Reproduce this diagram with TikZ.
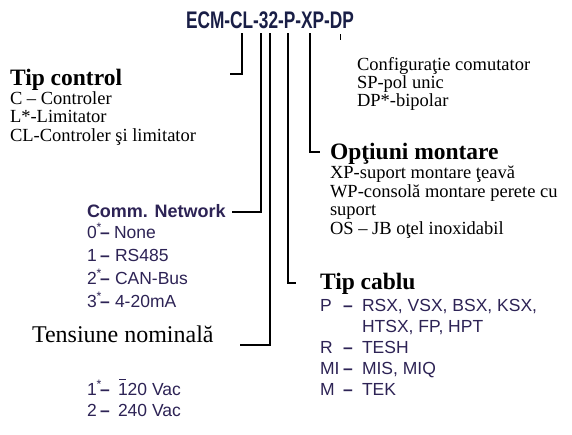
\documentclass[tikz,border=0pt]{standalone}
\usepackage{fontspec}
\setmainfont{Liberation Serif}
\newfontfamily\sansf{Liberation Sans}
\newfontfamily\titlef[FakeStretch=0.72]{Liberation Sans}
\definecolor{navy}{RGB}{45,35,85}
\definecolor{titlecol}{RGB}{25,30,70}
\begin{document}
\begin{tikzpicture}[x=1pt,y=-1pt,
  every node/.style={inner sep=0pt,outer sep=0pt},
  reg/.style={anchor=base west,font=\fontsize{18.5}{20}\selectfont},
  big/.style={anchor=base west,font=\fontsize{24}{26}\selectfont},
  head/.style={anchor=base west,font=\bfseries\fontsize{23.5}{25}\selectfont},
  sl/.style={anchor=base west,text=navy,font=\sansf\fontsize{17.5}{19}\selectfont},
  sd/.style={anchor=base west,text=navy,font=\sansf\bfseries\fontsize{17.5}{19}\selectfont},
  sh/.style={anchor=base west,text=navy,font=\sansf\bfseries\fontsize{18}{20}\selectfont},
  link/.style={line width=1.4pt,black}]
\useasboundingbox[fill=white] (0,0) rectangle (572,434);

% title
\node[anchor=base west,text=titlecol,font=\titlef\bfseries\fontsize{24}{25}\selectfont] (title) at (186,28) {ECM-CL-32-P-XP-DP};

% connector coordinates
\coordinate (a0) at (242,33); \coordinate (a1) at (230,74);
\coordinate (b0) at (261,33); \coordinate (b1) at (232,212);
\coordinate (c0) at (270,33); \coordinate (c1) at (240,345);
\coordinate (d0) at (288,33); \coordinate (d1) at (296,283);
\coordinate (e0) at (310,33); \coordinate (e1) at (320,152);
\coordinate (f0) at (340,34); \coordinate (f1) at (340,40);
\draw[link] (a0) |- (a1);
\draw[link] (b0) |- (b1);
\draw[link] (c0) |- (c1);
\draw[link] (d0) |- (d1);
\draw[link] (e0) |- (e1);
\draw[line width=1pt] (f0) -- (f1);

% Tip control
\node[head] (tc) at (10,85) {Tip control};
\node[reg] (tc1) at (10,104) {C – Controler};
\node[reg] (tc2) at (10,122.5) {L*-Limitator};
\node[reg] (tc3) at (10,141) {CL-Controler şi limitator};

% Comm network
\node[sh] (cn) at (87,217) {Comm. Network};
\node[sl] (cn0l) at (87,238) {0\textsuperscript{*}};
\node[sd] (cn0d) at (100,238) {–};
\node[sl] (cn0v) at (114,238) {None};
\node[sl] (cn1l) at (87,261) {1};
\node[sd] (cn1d) at (100,261) {–};
\node[sl] (cn1v) at (115,261) {RS485};
\node[sl] (cn2l) at (87,284) {2\textsuperscript{*}};
\node[sd] (cn2d) at (100,284) {–};
\node[sl] (cn2v) at (115,284) {CAN-Bus};
\node[sl] (cn3l) at (87,307) {3\textsuperscript{*}};
\node[sd] (cn3d) at (100,307) {–};
\node[sl] (cn3v) at (115,307) {4-20mA};

% Tensiune
\node[big] (tn) at (32,342) {Tensiune nominală};
\node[sl] (tn1l) at (87,395) {1\textsuperscript{*}};
\node[sd] (tn1d) at (100,395) {–};
\node[sl] (tn1v) at (118,395) {120 Vac};
\draw[navy,line width=0.9pt] (119,379) -- (126,379);
\node[sl] (tn2l) at (87,416) {2};
\node[sd] (tn2d) at (100,416) {–};
\node[sl] (tn2v) at (118,416) {240 Vac};

% Configuratie
\node[reg] (cf) at (357,70) {Configuraţie comutator};
\node[reg] (cf1) at (357,88) {SP-pol unic};
\node[reg] (cf2) at (357,106) {DP*-bipolar};

% Optiuni montare
\node[head] (om) at (330,159) {Opţiuni montare};
\node[reg] (om1) at (330,178.5) {XP-suport montare ţeavă};
\node[reg] (om2) at (330,197) {WP-consolă montare perete cu};
\node[reg] (om3) at (330,215.5) {suport};
\node[reg] (om4) at (330,234) {OS – JB oţel inoxidabil};

% Tip cablu
\node[head] (tcb) at (320,289) {Tip cablu};
\node[sl] (tp1l) at (320,311) {P};
\node[sd] (tp1d) at (343,311) {–};
\node[sl] (tp1v) at (362,311) {RSX, VSX, BSX, KSX,};
\node[sl] (tp1w) at (362,332) {HTSX, FP, HPT};
\node[sl] (tp2l) at (320,353) {R};
\node[sd] (tp2d) at (343,353) {–};
\node[sl] (tp2v) at (362,353) {TESH};
\node[sl] (tp3l) at (320,374) {MI};
\node[sd] (tp3d) at (343,374) {–};
\node[sl] (tp3v) at (362,374) {MIS, MIQ};
\node[sl] (tp4l) at (320,395) {M};
\node[sd] (tp4d) at (343,395) {–};
\node[sl] (tp4v) at (362,395) {TEK};
\end{tikzpicture}
\end{document}
